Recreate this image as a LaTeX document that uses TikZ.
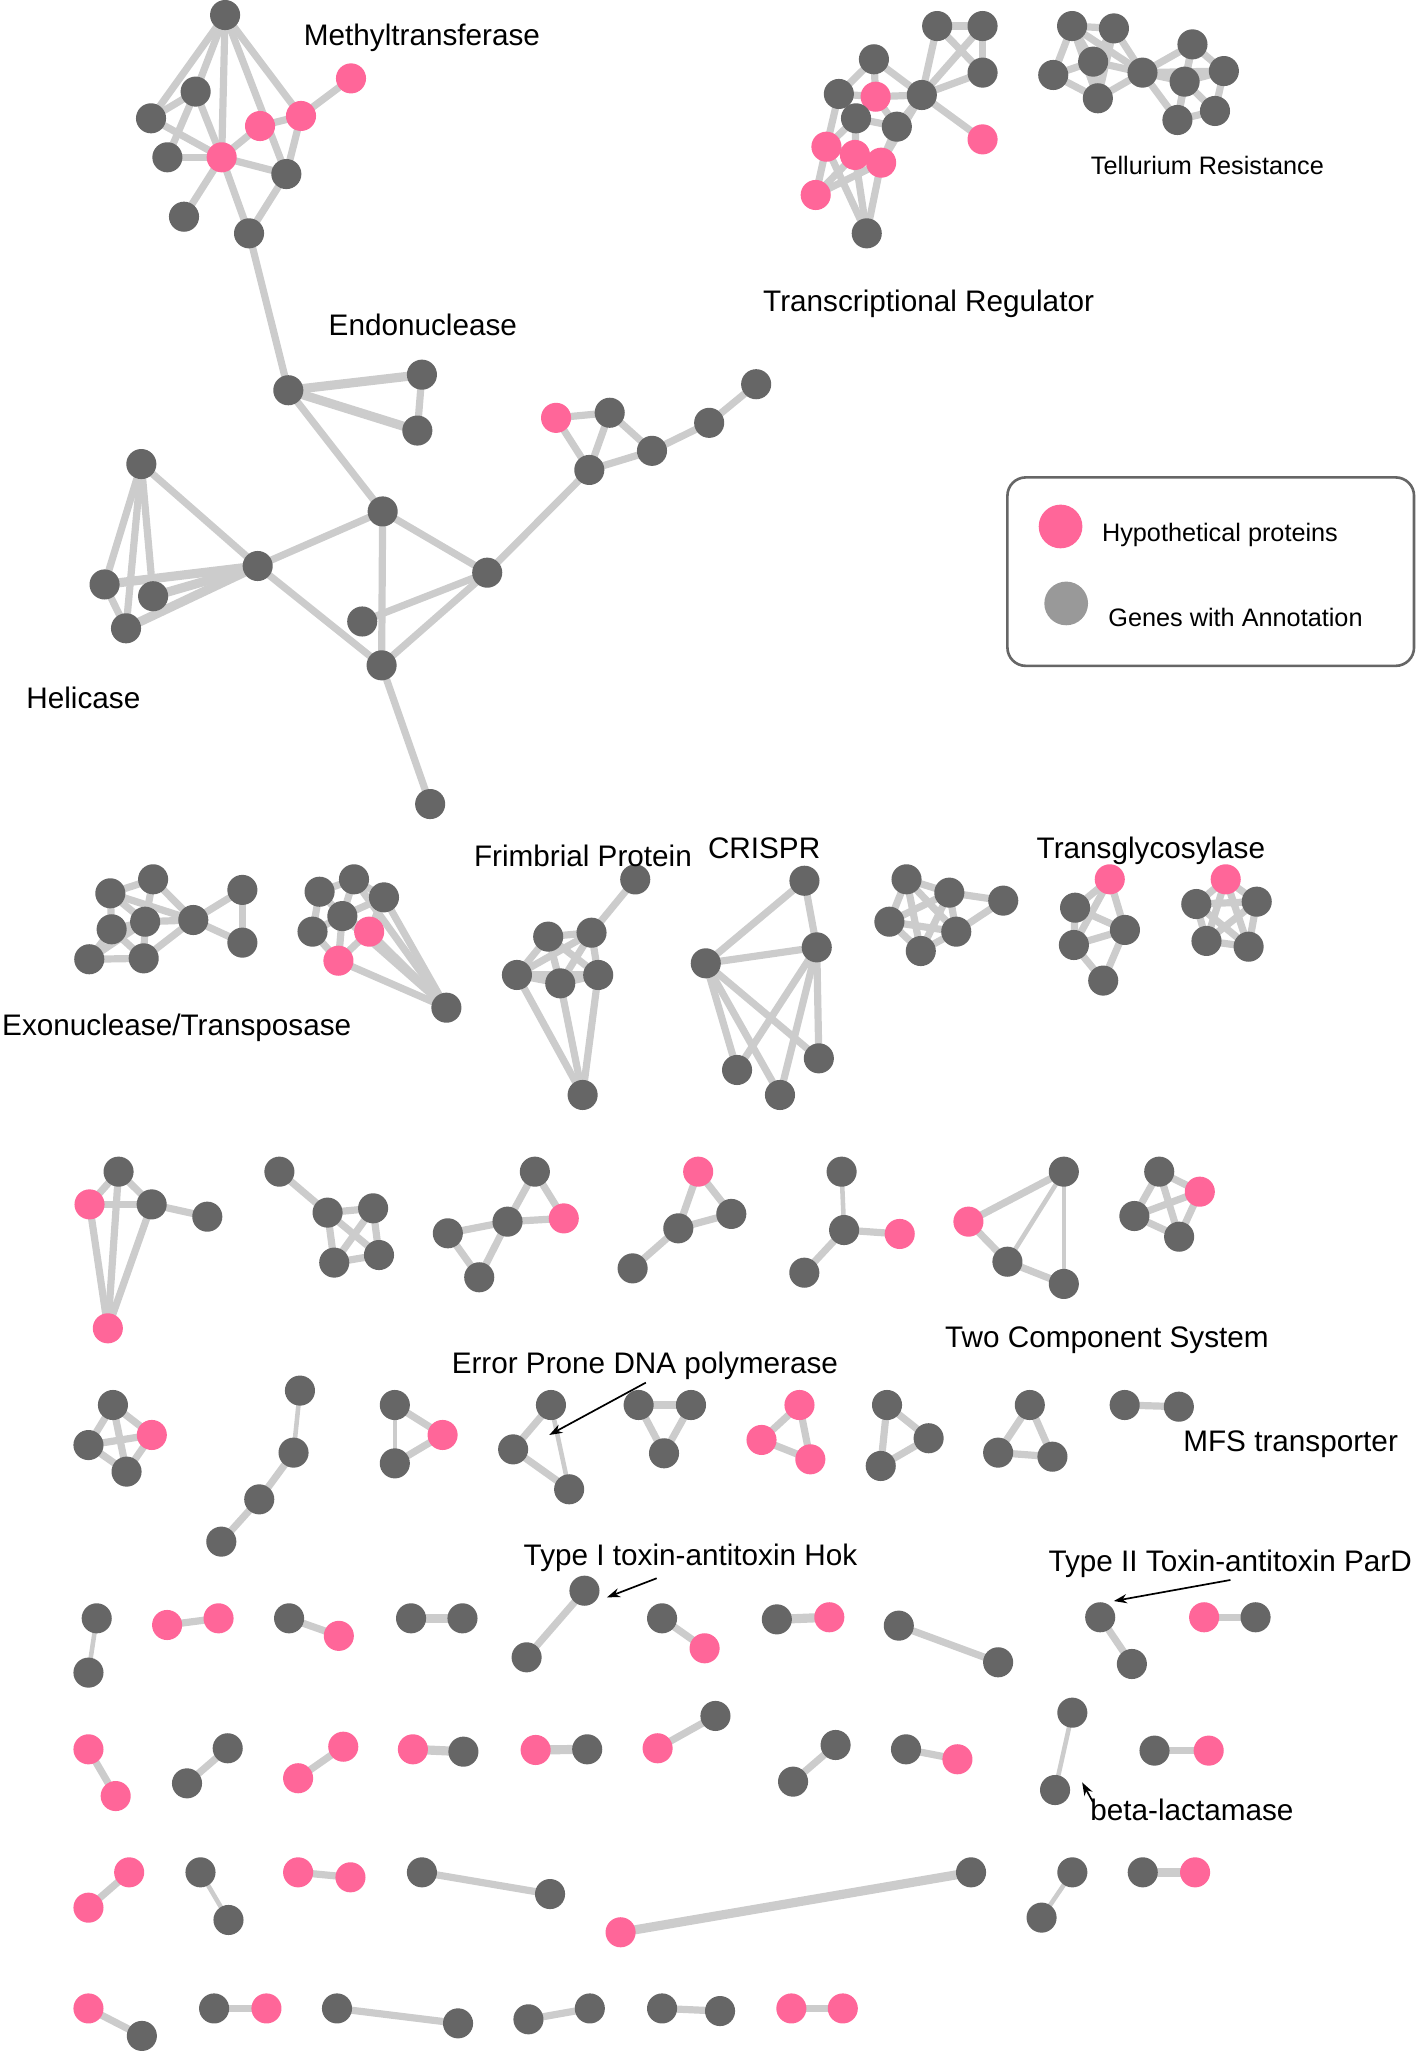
\documentclass[tikz,border=0pt]{standalone}
\usepackage{fontspec}
\setmainfont{Liberation Sans}
\usetikzlibrary{arrows.meta}
\definecolor{nodegray}{HTML}{666666}
\definecolor{nodepink}{HTML}{FF6699}
\definecolor{edgegray}{HTML}{CCCCCC}
\definecolor{leggray}{HTML}{999999}
\definecolor{legborder}{HTML}{666666}
\pgfdeclarelayer{bg}
\pgfsetlayers{bg,main}
\newcommand{\biglab}{\fontsize{22.7}{27}\selectfont}
\newcommand{\smalllab}{\fontsize{19.3}{23}\selectfont}
\begin{document}
\begin{tikzpicture}[x=1pt,y=-1pt,
 gn/.style={circle,fill=nodegray,inner sep=0pt,minimum size=23pt},
 pn/.style={gn,fill=nodepink},
 edge/.style={draw=edgegray,line width=5.5pt},
 ethin/.style={edge,line width=3.5pt},
 ewide/.style={edge,line width=7pt},
 lbl/.style={font=\biglab,inner sep=0pt,anchor=base west},
 slbl/.style={font=\smalllab,inner sep=0pt,anchor=base west},
 arr/.style={-{Stealth[length=10pt,width=7pt]},line width=1.3pt,black}]
\useasboundingbox (0,0) rectangle (1082,1568);
% ---------- Methyltransferase cluster
\node[gn] (n1) at (172,11.5) {};
\node[gn] (n2) at (149.5,70) {};
\node[gn] (n3) at (115.4,90.4) {};
\node[gn] (n4) at (127.9,120.2) {};
\node[pn] (n5) at (169.4,120.2) {};
\node[pn] (n6) at (198.7,96.3) {};
\node[pn] (n7) at (230,88.6) {};
\node[pn] (n8) at (268.2,59.9) {};
\node[gn] (n9) at (218.8,133) {};
\node[gn] (n10) at (140.6,165.6) {};
\node[gn] (n11) at (190.3,178.3) {};
% ---------- middle network
\node[gn] (e1) at (220.3,298.2) {};
\node[gn] (e2) at (322.4,286.3) {};
\node[gn] (e3) at (318.9,329) {};
\node[gn] (m1) at (292.4,390.8) {};
\node[gn] (hc) at (196.9,432.5) {};
\node[gn] (h1) at (108,354.6) {};
\node[gn] (h2) at (79.9,446.6) {};
\node[gn] (h3) at (117,455.6) {};
\node[gn] (h4) at (96.3,480.1) {};
\node[gn] (m2) at (372.3,437.6) {};
\node[gn] (m3) at (276.8,474.9) {};
\node[gn] (m4) at (291.6,508.4) {};
\node[gn] (m5) at (328.7,614.4) {};
\node[pn] (p1) at (424.9,319.3) {};
\node[gn] (p2) at (465.9,315.4) {};
\node[gn] (p3) at (450.3,359.1) {};
\node[gn] (p4) at (498.2,344.5) {};
\node[gn] (p5) at (541.9,323.1) {};
\node[gn] (p6) at (577.8,293.6) {};
% ---------- Transcriptional regulator
\node[gn] (tr1) at (716.1,19.9) {};
\node[gn] (tr2) at (750.8,19.9) {};
\node[gn] (tr3) at (750.8,55.5) {};
\node[gn] (tr4) at (704.4,72.6) {};
\node[gn] (tr5) at (667.8,45.3) {};
\node[gn] (tr6) at (641,71.8) {};
\node[pn] (tr7) at (669.1,73.9) {};
\node[gn] (tr8) at (654.1,90.4) {};
\node[gn] (tr9) at (685.3,96.8) {};
\node[pn] (tr10) at (750.8,106.5) {};
\node[pn] (tr11) at (631.5,112.1) {};
\node[pn] (tr12) at (653.3,118.4) {};
\node[pn] (tr13) at (673.3,124.3) {};
\node[pn] (tr14) at (623.3,149) {};
\node[gn] (tr15) at (662.3,178.3) {};
% ---------- Tellurium
\node[gn] (te1) at (819.2,19.9) {};
\node[gn] (te2) at (851.2,21.7) {};
\node[gn] (te3) at (804.8,57.3) {};
\node[gn] (te4) at (835.3,47.1) {};
\node[gn] (te5) at (838.9,75.1) {};
\node[gn] (te6) at (873,55.5) {};
\node[gn] (te7) at (911.2,33.9) {};
\node[gn] (te8) at (935.2,54.3) {};
\node[gn] (te9) at (905.2,62.4) {};
\node[gn] (te10) at (928.4,84.8) {};
\node[gn] (te11) at (899.7,91.7) {};
% ---------- Row 2
\node[gn] (x1) at (84.3,682.6) {};
\node[gn] (x2) at (117,671.9) {};
\node[gn] (x3) at (85.3,710.1) {};
\node[gn] (x4) at (110.9,704.3) {};
\node[gn] (x5) at (68.2,733) {};
\node[gn] (x6) at (109.8,732.3) {};
\node[gn] (x7) at (147.7,703) {};
\node[gn] (x8) at (185.2,680) {};
\node[gn] (x9) at (185.2,720.3) {};
\node[gn] (y1) at (244.2,681.4) {};
\node[gn] (y2) at (270.5,671.9) {};
\node[gn] (y3) at (293.4,685.7) {};
\node[gn] (y4) at (261.6,700) {};
\node[gn] (y5) at (238.8,711.9) {};
\node[pn] (y6) at (282.1,711.9) {};
\node[pn] (y7) at (258.6,734.1) {};
\node[gn] (y8) at (341.1,770) {};
\node[gn] (f1) at (485.4,672) {};
\node[gn] (f2) at (418.9,715.7) {};
\node[gn] (f3) at (452,712.7) {};
\node[gn] (f4) at (395,745) {};
\node[gn] (f5) at (428.1,751.4) {};
\node[gn] (f6) at (457.1,745) {};
\node[gn] (f7) at (445.2,836.7) {};
\node[gn] (c1) at (614.7,673) {};
\node[gn] (c2) at (624.1,723.9) {};
\node[gn] (c3) at (539.3,736.1) {};
\node[gn] (c4) at (563.2,817.6) {};
\node[gn] (c5) at (596,836.7) {};
\node[gn] (c6) at (625.7,808.7) {};
\node[gn] (g1) at (692.7,671.9) {};
\node[gn] (g2) at (725.4,682.1) {};
\node[gn] (g3) at (679.6,704.3) {};
\node[gn] (g4) at (730.7,711.9) {};
\node[gn] (g5) at (703.6,726.7) {};
\node[gn] (g6) at (766.6,688.2) {};
\node[pn] (a1) at (848,671.9) {};
\node[gn] (a2) at (821.5,693.6) {};
\node[gn] (a3) at (859.6,710.6) {};
\node[gn] (a4) at (820.6,722.1) {};
\node[gn] (a5) at (843,749.3) {};
\node[pn] (b1) at (936.6,671.9) {};
\node[gn] (b2) at (914.1,690.8) {};
\node[gn] (b3) at (960.3,689) {};
\node[gn] (b4) at (921.9,719) {};
\node[gn] (b5) at (954.1,723.4) {};
% ---------- Row 3
\node[gn] (A1) at (90.6,895.3) {};
\node[pn] (A2) at (68.4,920.3) {};
\node[gn] (A3) at (115.9,920.3) {};
\node[gn] (A4) at (158.4,929.7) {};
\node[pn] (A5) at (82.4,1015) {};
\node[gn] (B1) at (213.5,895.3) {};
\node[gn] (B2) at (250.3,926.6) {};
\node[gn] (B3) at (285.1,923.3) {};
\node[gn] (B4) at (255.4,964.8) {};
\node[gn] (B5) at (289.6,959) {};
\node[gn] (C1) at (408.7,895.3) {};
\node[pn] (C2) at (430.8,931) {};
\node[gn] (C3) at (387.8,933.5) {};
\node[gn] (C4) at (342.2,942.4) {};
\node[gn] (C5) at (366.2,976) {};
\node[pn] (D1) at (533.5,895.3) {};
\node[gn] (D2) at (558.8,927.6) {};
\node[gn] (D3) at (518.3,938.6) {};
\node[gn] (D4) at (483.4,969.2) {};
\node[gn] (E1) at (643.1,895.3) {};
\node[gn] (E2) at (645,939.9) {};
\node[pn] (E3) at (687.5,942.9) {};
\node[gn] (E4) at (614.6,972.5) {};
\node[gn] (F1) at (812.9,895.3) {};
\node[pn] (F2) at (740,933.5) {};
\node[gn] (F3) at (769.8,964.1) {};
\node[gn] (F4) at (812.9,981.1) {};
\node[gn] (G1) at (885.8,895.3) {};
\node[pn] (G2) at (916.8,910.6) {};
\node[gn] (G3) at (866.8,929.2) {};
\node[gn] (G4) at (901,945) {};
% ---------- Row 4
\node[gn] (H1) at (86.3,1073.6) {};
\node[pn] (H2) at (116,1096.5) {};
\node[gn] (H3) at (67.6,1104.2) {};
\node[gn] (H4) at (96.7,1124.5) {};
\node[gn] (I1) at (229.2,1062.6) {};
\node[gn] (I2) at (224.3,1110) {};
\node[gn] (I3) at (198.1,1145.7) {};
\node[gn] (I4) at (169.1,1178) {};
\node[gn] (J1) at (301.7,1073.6) {};
\node[pn] (J2) at (338.2,1096.5) {};
\node[gn] (J3) at (301.7,1118.2) {};
\node[gn] (K1) at (421,1073.6) {};
\node[gn] (K2) at (392.1,1107.5) {};
\node[gn] (K3) at (434.9,1138) {};
\node[gn] (L1) at (488,1073.6) {};
\node[gn] (L2) at (528,1073.6) {};
\node[gn] (L3) at (507.4,1110.5) {};
\node[pn] (M1) at (610.9,1073.6) {};
\node[pn] (M2) at (581.9,1100.3) {};
\node[pn] (M3) at (619.2,1115.1) {};
\node[gn] (N1) at (677.8,1073.6) {};
\node[gn] (N2) at (709.6,1099) {};
\node[gn] (N3) at (673,1120.2) {};
\node[gn] (O1) at (786.9,1073.6) {};
\node[gn] (O2) at (762.7,1110) {};
\node[gn] (O3) at (804.2,1113.1) {};
\node[gn] (P1) at (859.4,1073.6) {};
\node[gn] (P2) at (900.8,1074.9) {};
% ---------- Row 5
\node[gn] (ra1) at (73.9,1236.6) {};
\node[gn] (ra2) at (67.6,1278.1) {};
\node[pn] (rb1) at (127.7,1241.7) {};
\node[pn] (rb2) at (167,1236.6) {};
\node[gn] (rc1) at (220.9,1236.6) {};
\node[pn] (rc2) at (258.9,1250) {};
\node[gn] (rd1) at (314.1,1236.6) {};
\node[gn] (rd2) at (353.4,1236.6) {};
\node[gn] (re1) at (446.6,1215.5) {};
\node[gn] (re2) at (402.4,1266.4) {};
\node[gn] (rf1) at (505.9,1236.6) {};
\node[pn] (rf2) at (538.4,1259.5) {};
\node[gn] (rg1) at (593.6,1237.4) {};
\node[pn] (rg2) at (633.7,1235.8) {};
\node[gn] (rh1) at (686.8,1242.2) {};
\node[gn] (rh2) at (762.7,1270.2) {};
\node[gn] (ri1) at (840.7,1235.8) {};
\node[gn] (ri2) at (864.9,1271.5) {};
\node[pn] (rj1) at (920.1,1235.8) {};
\node[gn] (rj2) at (959.4,1235.8) {};
% ---------- Row 6
\node[pn] (sa1) at (67.6,1336.7) {};
\node[pn] (sa2) at (88.4,1372.4) {};
\node[gn] (sb1) at (142.9,1362.7) {};
\node[gn] (sb2) at (174,1335.9) {};
\node[pn] (sc1) at (227.8,1358.8) {};
\node[pn] (sc2) at (262.3,1334.7) {};
\node[pn] (sd1) at (315.5,1336.7) {};
\node[gn] (sd2) at (354.1,1338.5) {};
\node[pn] (se1) at (409.3,1337.2) {};
\node[gn] (se2) at (448.7,1336.7) {};
\node[pn] (sf1) at (502.5,1335.9) {};
\node[gn] (sf2) at (546.7,1311.2) {};
\node[gn] (sg1) at (606,1361.4) {};
\node[gn] (sg2) at (638.5,1333.4) {};
\node[gn] (sh1) at (692.3,1336.7) {};
\node[pn] (sh2) at (731.6,1344.3) {};
\node[gn] (si1) at (819.4,1308.7) {};
\node[gn] (si2) at (806.2,1367.8) {};
\node[gn] (sj1) at (882.2,1337.7) {};
\node[pn] (sj2) at (923.6,1337.7) {};
% ---------- Row 7
\node[pn] (ua1) at (98.7,1430.7) {};
\node[pn] (ua2) at (67.6,1457.7) {};
\node[gn] (ub1) at (153.2,1430.7) {};
\node[gn] (ub2) at (174.6,1467.1) {};
\node[pn] (uc1) at (227.8,1430.7) {};
\node[pn] (uc2) at (267.8,1434.5) {};
\node[gn] (ud1) at (322.4,1430.7) {};
\node[gn] (ud2) at (420.3,1447.3) {};
\node[pn] (ue1) at (474.2,1476.5) {};
\node[gn] (ue2) at (742,1430.7) {};
\node[gn] (uf1) at (819.4,1430.7) {};
\node[gn] (uf2) at (795.9,1465.3) {};
\node[gn] (ug1) at (873.2,1430.7) {};
\node[pn] (ug2) at (913.2,1430.7) {};
% ---------- Row 8
\node[pn] (va1) at (67.6,1534.7) {};
\node[gn] (va2) at (108.4,1555.7) {};
\node[gn] (vb1) at (163.6,1534.7) {};
\node[pn] (vb2) at (203.6,1534.7) {};
\node[gn] (vc1) at (257.5,1534.7) {};
\node[gn] (vc2) at (350,1546.1) {};
\node[gn] (vd1) at (403.8,1543) {};
\node[gn] (vd2) at (450.7,1534.7) {};
\node[gn] (ve1) at (505.9,1534.7) {};
\node[gn] (ve2) at (550.2,1536.7) {};
\node[pn] (vf1) at (604.7,1534.7) {};
\node[pn] (vf2) at (644,1534.7) {};
% ---------- edges
\begin{pgfonlayer}{bg}
\foreach \a/\b in {n1/n2,n1/n3,n1/n5,n1/n7,n1/n9,n2/n3,n2/n4,n2/n5,n3/n5,n4/n5,n5/n6,n6/n7,n7/n8,n5/n9,n7/n9,n5/n10,n5/n11,n9/n11,n11/e1,
 e1/m1,m1/hc,m1/m2,m1/m4,hc/m4,m2/m3,m2/m4,m4/m5,m2/p3,p1/p2,p1/p3,p2/p3,p2/p4,p3/p4,p4/p5,p5/p6,
 h1/hc,h1/h2,h1/h3,h1/h4,h2/h4,e2/e3,
 tr1/tr2,tr2/tr3,tr1/tr3,tr2/tr4,tr1/tr4,tr3/tr4,tr4/tr10,tr4/tr5,tr4/tr7,tr4/tr9,tr4/tr13,tr5/tr6,tr5/tr7,tr6/tr7,tr6/tr8,tr6/tr11,tr7/tr9,tr8/tr9,tr8/tr11,tr8/tr12,tr9/tr13,tr11/tr12,tr12/tr13,tr11/tr13,tr11/tr14,tr12/tr14,tr13/tr14,tr11/tr15,tr12/tr15,tr13/tr15,
 te1/te2,te1/te3,te1/te4,te1/te5,te1/te6,te2/te4,te2/te6,te2/te5,te3/te4,te3/te5,te4/te5,te4/te6,te5/te6,te6/te7,te6/te9,te6/te11,te6/te8,te7/te8,te7/te9,te8/te9,te8/te10,te9/te10,te9/te11,te10/te11,te7/te11,
 x1/x2,x1/x3,x1/x4,x1/x7,x2/x4,x2/x7,x3/x4,x3/x5,x3/x6,x4/x6,x4/x7,x5/x6,x6/x7,x4/x5,x7/x8,x7/x9,x8/x9,
 y1/y2,y2/y3,y1/y4,y2/y4,y3/y4,y1/y5,y4/y5,y4/y6,y3/y6,y5/y7,y6/y7,y4/y7,y8/y2,y8/y3,y8/y4,y8/y6,y8/y7,
 f1/f3,f2/f3,f2/f4,f3/f6,f4/f5,f5/f6,f4/f6,f2/f6,f3/f4,f2/f5,f3/f5,f7/f4,f7/f5,f7/f6,
 c1/c3,c1/c2,c2/c3,c3/c4,c3/c5,c3/c6,c2/c4,c2/c5,c2/c6,
 g1/g2,g1/g3,g1/g4,g1/g5,g2/g3,g2/g4,g2/g5,g3/g4,g3/g5,g4/g5,g2/g6,g4/g6,
 a1/a2,a1/a3,a1/a4,a2/a3,a2/a4,a3/a4,a3/a5,a4/a5,
 b1/b2,b1/b3,b1/b4,b1/b5,b2/b3,b2/b4,b2/b5,b3/b4,b3/b5,b4/b5,
 A1/A2,A1/A3,A2/A3,A3/A4,A2/A5,A1/A5,A3/A5,
 B1/B2,B2/B3,B2/B4,B2/B5,B3/B4,B3/B5,B4/B5,
 C1/C2,C1/C3,C2/C3,C3/C4,C3/C5,C4/C5,
 D1/D2,D1/D3,D2/D3,D3/D4,
 E2/E3,E2/E4,
 F1/F2,F2/F3,F3/F4,
 G1/G2,G1/G3,G1/G4,G2/G3,G2/G4,G3/G4,
 H1/H2,H1/H3,H1/H4,H2/H3,H2/H4,H3/H4,
 I2/I3,I3/I4,
 J1/J2,J2/J3,
 K1/K2,K2/K3,
 L1/L2,L1/L3,L2/L3,
 M1/M2,M1/M3,M2/M3,
 N1/N2,N1/N3,N2/N3,
 O1/O2,O1/O3,O2/O3,
 P1/P2,
 rb1/rb2,rc1/rc2,re1/re2,rf1/rf2,rh1/rh2,ri1/ri2,rj1/rj2,
 sa1/sa2,sb1/sb2,sc1/sc2,sf1/sf2,sg1/sg2,sh1/sh2,sj1/sj2,
 ua1/ua2,uc1/uc2,ud1/ud2,
 va1/va2,vb1/vb2,vc1/vc2,vd1/vd2,ve1/ve2,vf1/vf2}
 {\draw[edge] (\a.center) -- (\b.center);}
\foreach \a/\b in {e1/e2,e1/e3,h2/hc,h3/hc,h4/hc,rd1/rd2,rg1/rg2,sd1/sd2,se1/se2,ue1/ue2,ug1/ug2}
 {\draw[ewide] (\a.center) -- (\b.center);}
\foreach \a/\b in {ra1/ra2,I1/I2,E1/E2,si1/si2,uf1/uf2,ub1/ub2,J1/J3,K1/K3,F1/F3,F1/F4}
 {\draw[ethin] (\a.center) -- (\b.center);}
\end{pgfonlayer}
% ---------- labels
\node[lbl] (lmt) at (232,34.4) {Methyltransferase};
\node[lbl] (len) at (251,256) {Endonuclease};
\node[lbl] (lhe) at (20,541.3) {Helicase};
\node[lbl] (ltr) at (583,238) {Transcriptional Regulator};
\node[slbl] (lte) at (833.4,133.7) {Tellurium Resistance};
\node[lbl] (lfr) at (362,662.2) {Frimbrial Protein};
\node[lbl] (lcr) at (540.8,655.9) {CRISPR};
\node[lbl] (ltg) at (792,655.9) {Transglycosylase};
\node[lbl] (lex) at (1.5,790.9) {Exonuclease/Transposase};
\node[lbl] (ltc) at (722,1030) {Two Component System};
\node[lbl] (lep) at (345,1049.4) {Error Prone DNA polymerase};
\node[lbl] (lmf) at (904,1109) {MFS transporter};
\node[lbl] (lt1) at (400,1196) {Type I toxin-antitoxin Hok};
\node[lbl] (lt2) at (801,1201) {Type II Toxin-antitoxin ParD};
\node[lbl] (lbl) at (833,1391) {beta-lactamase};
% ---------- arrows
\coordinate (aeS) at (493.5,1056.5); \coordinate (aeE) at (419.7,1096.5);
\coordinate (a1S) at (501.8,1206); \coordinate (a1E) at (463.8,1220.6);
\coordinate (a2S) at (940.2,1207.3); \coordinate (a2E) at (851.1,1223.4);
\coordinate (abS) at (835.2,1377); \coordinate (abE) at (826.9,1362);
\draw[arr] (aeS) -- (aeE);
\draw[arr] (a1S) -- (a1E);
\draw[arr] (a2S) -- (a2E);
\draw[arr] (abS) -- (abE);
% ---------- legend
\draw[legborder,line width=2pt,rounded corners=14pt] (769.8,364.8) rectangle (1080.5,508.8);
\node[circle,fill=nodepink,inner sep=0pt,minimum size=33.4pt] (lgp) at (810.4,402.3) {};
\node[circle,fill=leggray,inner sep=0pt,minimum size=33.4pt] (lgg) at (814.7,461.1) {};
\node[slbl] (lgt1) at (841.9,413.5) {Hypothetical proteins};
\node[slbl] (lgt2) at (846.8,478.6) {Genes with Annotation};
\end{tikzpicture}
\end{document}
